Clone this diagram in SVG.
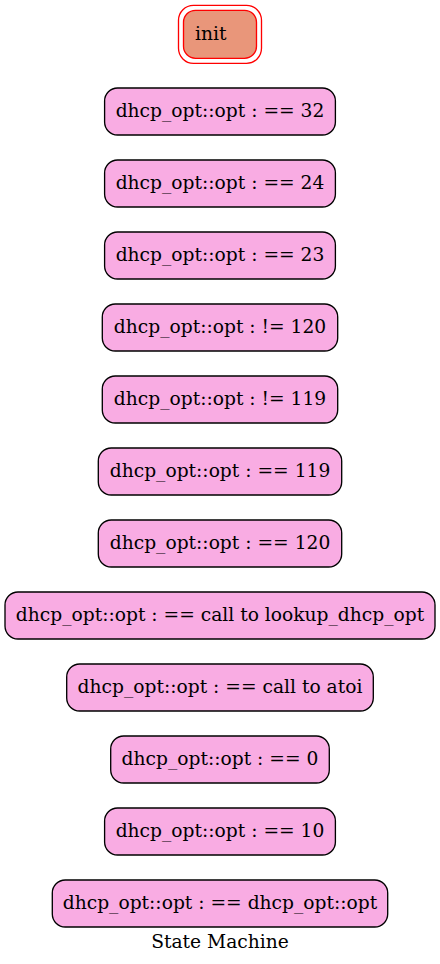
<svg xmlns="http://www.w3.org/2000/svg" width="440" height="964" viewBox="0 0 440 964">
<style>
.n rect{fill:#f9ace3;stroke:#000;stroke-width:1.33}
text{font-family:"DejaVu Serif","Liberation Serif",serif;font-size:18.67px;fill:#000;text-anchor:middle}
</style>
<rect x="0" y="0" width="440" height="964" fill="#fff"/>
<g id="init">
<rect x="178.5" y="5.3" width="83" height="58" rx="15" fill="none" stroke="#f00" stroke-width="1.33"/>
<rect x="183.5" y="10.3" width="73" height="48" rx="12" fill="#e9967a" stroke="#f00" stroke-width="1.33"/>
<text x="195" y="40.3" style="text-anchor:start">init</text>
</g>
<g id="s1" class="n"><rect x="104.6" y="88" width="230.8" height="47" rx="13"/><text x="220" y="117.3">dhcp_opt::opt : == 32</text></g>
<g id="s2" class="n"><rect x="104.6" y="160" width="230.8" height="47" rx="13"/><text x="220" y="189.3">dhcp_opt::opt : == 24</text></g>
<g id="s3" class="n"><rect x="104.6" y="232" width="230.8" height="47" rx="13"/><text x="220" y="261.3">dhcp_opt::opt : == 23</text></g>
<g id="s4" class="n"><rect x="102.3" y="304" width="235.4" height="47" rx="13"/><text x="220" y="333.3">dhcp_opt::opt : != 120</text></g>
<g id="s5" class="n"><rect x="102.3" y="376" width="235.4" height="47" rx="13"/><text x="220" y="405.3">dhcp_opt::opt : != 119</text></g>
<g id="s6" class="n"><rect x="98.3" y="448" width="243.4" height="47" rx="13"/><text x="220" y="477.3">dhcp_opt::opt : == 119</text></g>
<g id="s7" class="n"><rect x="98.3" y="520" width="243.4" height="47" rx="13"/><text x="220" y="549.3">dhcp_opt::opt : == 120</text></g>
<g id="s8" class="n"><rect x="5" y="592" width="430" height="47" rx="13"/><text x="220" y="621.3">dhcp_opt::opt : == call to lookup_dhcp_opt</text></g>
<g id="s9" class="n"><rect x="66.7" y="664" width="306.6" height="47" rx="13"/><text x="220" y="693.3">dhcp_opt::opt : == call to atoi</text></g>
<g id="s10" class="n"><rect x="110.7" y="736" width="218.6" height="47" rx="13"/><text x="220" y="765.3">dhcp_opt::opt : == 0</text></g>
<g id="s11" class="n"><rect x="104.6" y="808" width="230.8" height="47" rx="13"/><text x="220" y="837.3">dhcp_opt::opt : == 10</text></g>
<g id="s12" class="n"><rect x="52.3" y="880" width="335.4" height="47" rx="13"/><text x="220" y="909.3">dhcp_opt::opt : == dhcp_opt::opt</text></g>
<g id="connectors"></g>
<text id="title" x="220" y="948">State Machine</text>
</svg>
